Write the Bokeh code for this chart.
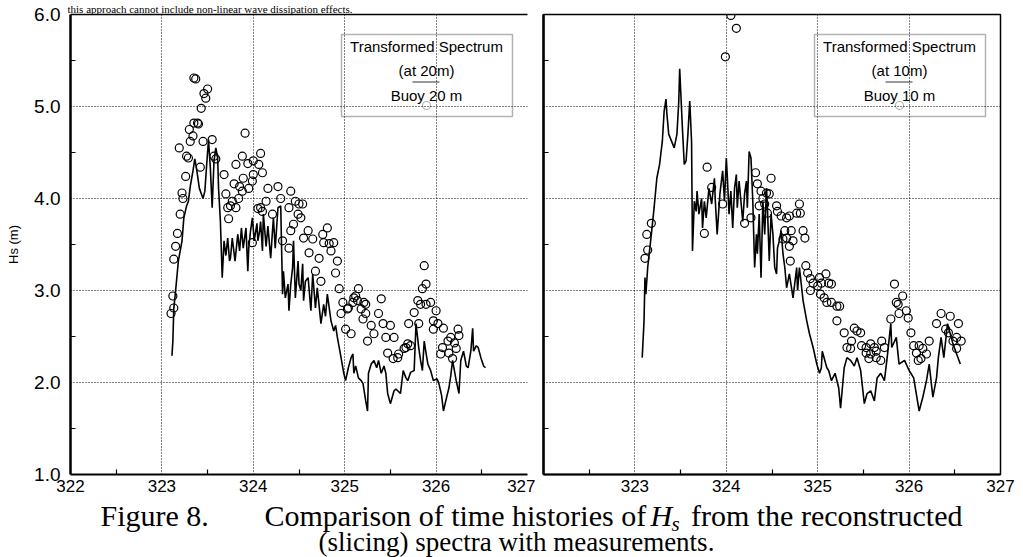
from bokeh.plotting import figure
from bokeh.models import (FixedTicker, PrintfTickFormatter, LinearAxis, Grid, Label,
                          BoxAnnotation, Range1d, Title)
from bokeh.layouts import column, row
from bokeh.embed import file_html
from bokeh.resources import INLINE

# ---------------- data ----------------
X_TICKS_LEFT = [322, 323, 324, 325, 326, 327]
X_TICKS_RIGHT = [323, 324, 325, 326, 327]
X_MINOR = [322.5, 323.5, 324.5, 325.5, 326.5]
X_GRID = [323, 324, 325, 326]
Y_TICKS = [1, 2, 3, 4, 5, 6]
Y_MINOR = [1.5, 2.5, 3.5, 4.5, 5.5]
Y_GRID = [2, 3, 4, 5]

# Transformed spectrum at 20 m (line, left panel)
T20_X = [323.11, 323.12, 323.13, 323.15, 323.17, 323.18, 323.22, 323.24, 323.27, 323.29,
         323.31, 323.34, 323.36, 323.38, 323.41, 323.45, 323.47, 323.49, 323.51, 323.53,
         323.55, 323.57, 323.59, 323.61, 323.62, 323.64, 323.66, 323.68, 323.70, 323.72,
         323.74, 323.75, 323.77, 323.80, 323.83, 323.85, 323.87, 323.89, 323.92, 323.94,
         323.95, 323.97, 323.99, 324.01, 324.04, 324.05, 324.07, 324.08, 324.10, 324.11,
         324.14, 324.16, 324.19, 324.21, 324.22, 324.24, 324.27, 324.30, 324.32, 324.33,
         324.35, 324.38, 324.39, 324.41, 324.43, 324.44, 324.46, 324.49, 324.50, 324.52,
         324.54, 324.55, 324.57, 324.60, 324.63, 324.65, 324.68, 324.70, 324.74, 324.77,
         324.79, 324.81, 324.85, 324.88, 324.90, 324.92, 324.96, 324.99, 325.01, 325.04,
         325.07, 325.09, 325.10, 325.12, 325.15, 325.18, 325.20, 325.23, 325.25, 325.26,
         325.29, 325.32, 325.35, 325.37, 325.40, 325.43, 325.45, 325.47, 325.50, 325.54,
         325.56, 325.58, 325.61, 325.64, 325.67, 325.69, 325.72, 325.76, 325.78, 325.81,
         325.83, 325.85, 325.87, 325.89, 325.91, 325.94, 325.97, 326.01, 326.03, 326.06,
         326.08, 326.12, 326.14, 326.16, 326.18, 326.22, 326.25, 326.27, 326.30, 326.33,
         326.35, 326.38, 326.40, 326.41, 326.44, 326.46, 326.49, 326.52, 326.54]
T20_HS = [2.29, 2.45, 2.80, 3.00, 3.21, 3.32, 3.54, 3.79, 3.92, 3.97,
          4.13, 4.30, 4.43, 4.32, 4.11, 4.00, 4.08, 4.37, 4.64, 4.33,
          3.90, 4.41, 4.55, 4.44, 4.11, 3.75, 3.14, 3.54, 3.38, 3.57,
          3.32, 3.35, 3.57, 3.32, 3.61, 3.43, 3.68, 3.46, 3.68, 3.21,
          3.46, 3.65, 3.79, 3.54, 3.73, 3.54, 3.65, 3.75, 3.43, 3.83,
          3.48, 3.70, 3.35, 3.65, 3.79, 3.46, 3.90, 3.92, 2.96, 3.21,
          2.92, 3.07, 2.78, 3.07, 3.25, 3.54, 2.92, 3.32, 3.07, 3.00,
          3.29, 2.89, 3.10, 3.14, 2.78, 3.18, 2.81, 3.03, 2.64, 2.85,
          2.72, 2.96, 2.67, 2.56, 2.62, 2.49, 2.27, 2.10, 2.02, 2.16,
          2.27, 2.31, 2.10, 2.18, 2.05, 2.02, 1.99, 1.80, 1.69, 2.10,
          2.20, 2.24, 2.16, 2.24, 2.10, 2.18, 2.10, 1.88, 1.77, 1.91,
          1.93, 1.91, 1.88, 2.13, 2.05, 2.02, 2.11, 2.13, 2.64, 2.38,
          2.24, 2.13, 2.45, 2.32, 2.20, 2.13, 2.02, 2.04, 1.99, 1.86,
          1.69, 1.86, 1.94, 2.07, 2.24, 2.02, 1.88, 2.24, 2.34, 2.18,
          2.16, 2.34, 2.59, 2.34, 2.40, 2.38, 2.27, 2.18, 2.16]

# Buoy 20 m (circles, left panel)
B20_X = [323.10, 323.12, 323.13, 323.13, 323.15, 323.17, 323.20, 323.22, 323.23, 323.26,
         323.27, 323.29, 323.19, 323.31, 323.30, 323.34, 323.35, 323.39, 323.40, 323.42,
         323.45, 323.43, 323.46, 323.50, 323.48, 323.37, 323.35, 323.55, 323.57, 323.59,
         323.68, 323.91, 324.08, 323.88, 323.94, 323.81, 324.00, 324.06, 324.10, 323.79,
         323.89, 323.85, 323.99, 324.00, 323.95, 323.88, 323.84, 323.77, 323.70, 323.72,
         323.75, 323.81, 323.73, 324.16, 324.27, 324.30, 324.14, 324.08, 324.05, 324.10,
         324.21, 324.41, 324.46, 324.50, 324.54, 324.49, 324.39, 324.52, 324.44, 324.60,
         324.41, 324.55, 324.65, 324.76, 324.81, 324.77, 324.83, 324.88, 324.61, 324.72,
         324.85, 324.92, 324.90, 324.68, 324.74, 324.39, 324.32, 323.99, 324.94, 324.98,
         324.96, 325.03, 325.09, 325.12, 325.15, 325.18, 325.21, 325.23, 325.01, 325.07,
         325.25, 325.29, 325.32, 325.37, 325.40, 325.42, 325.45, 325.50, 325.54, 325.47,
         325.53, 325.59, 325.65, 325.69, 325.70, 325.76, 325.80, 325.85, 325.89, 325.83,
         325.89, 325.94, 326.00, 325.97, 326.02, 325.97, 326.08, 326.07, 326.13, 326.16,
         326.20, 326.22, 326.14, 326.24, 326.25, 326.05, 326.18, 325.81, 325.87, 325.23,
         325.10, 325.14, 325.04, 325.20, 325.58, 325.67, 325.72]
B20_HS = [2.75, 2.94, 2.81, 3.34, 3.48, 3.62, 3.83, 4.06, 4.00, 4.24,
          4.46, 4.44, 4.55, 4.62, 4.75, 4.68, 4.82, 4.82, 4.81, 4.34,
          4.62, 4.98, 5.14, 5.19, 5.09, 5.30, 5.31, 4.64, 4.46, 4.43,
          4.26, 4.71, 4.49, 4.46, 4.38, 4.37, 4.41, 4.37, 4.28, 4.16,
          4.22, 4.13, 4.19, 4.26, 4.11, 4.08, 4.00, 3.97, 4.05, 3.90,
          3.92, 3.90, 3.78, 4.11, 4.13, 4.00, 3.97, 3.90, 3.89, 3.86,
          3.83, 4.08, 3.97, 3.94, 3.94, 3.83, 3.90, 3.79, 3.72, 3.65,
          3.65, 3.57, 3.56, 3.61, 3.68, 3.52, 3.51, 3.52, 3.41, 3.35,
          3.43, 3.32, 3.19, 3.21, 3.10, 3.46, 3.54, 3.52, 3.02, 2.87,
          2.75, 2.80, 2.87, 2.94, 3.02, 2.80, 2.87, 2.75, 2.58, 2.53,
          2.45, 2.62, 2.53, 2.75, 2.91, 2.64, 2.49, 2.62, 2.49, 2.32,
          2.26, 2.31, 2.37, 2.42, 2.64, 2.76, 2.89, 3.02, 3.07, 2.85,
          2.85, 2.87, 2.78, 2.67, 2.64, 2.58, 2.59, 2.38, 2.45, 2.49,
          2.43, 2.37, 2.32, 2.58, 2.51, 2.31, 2.26, 2.64, 3.27, 2.85,
          2.92, 2.89, 2.81, 2.69, 2.27, 2.38, 2.40]

# Transformed spectrum at 10 m (line, right panel)
T10_X = [323.08, 323.10, 323.11, 323.12, 323.14, 323.18, 323.21, 323.24, 323.27, 323.30,
         323.32, 323.34, 323.35, 323.37, 323.43, 323.46, 323.48, 323.49, 323.52, 323.54,
         323.56, 323.58, 323.60, 323.62, 323.63, 323.65, 323.67, 323.68, 323.70, 323.73,
         323.74, 323.76, 323.78, 323.81, 323.84, 323.87, 323.88, 323.90, 323.93, 323.96,
         323.98, 324.00, 324.01, 324.03, 324.05, 324.07, 324.09, 324.11, 324.12, 324.14,
         324.16, 324.18, 324.20, 324.22, 324.23, 324.25, 324.27, 324.29, 324.31, 324.33,
         324.34, 324.36, 324.38, 324.40, 324.42, 324.44, 324.45, 324.47, 324.49, 324.51,
         324.53, 324.55, 324.56, 324.58, 324.60, 324.62, 324.64, 324.66, 324.69, 324.73,
         324.77, 324.78, 324.80, 324.84, 324.88, 324.91, 324.95, 324.99, 325.02, 325.04,
         325.05, 325.10, 325.12, 325.15, 325.19, 325.23, 325.25, 325.29, 325.32, 325.36,
         325.40, 325.43, 325.47, 325.51, 325.54, 325.58, 325.62, 325.65, 325.69, 325.73,
         325.76, 325.80, 325.81, 325.86, 325.89, 325.95, 326.00, 326.05, 326.11, 326.15,
         326.19, 326.22, 326.26, 326.30, 326.32, 326.35, 326.38, 326.42, 326.45, 326.48,
         326.52, 326.56]
T10_HS = [2.27, 2.67, 3.14, 2.96, 3.25, 3.61, 3.90, 4.22, 4.37, 4.62,
          4.95, 5.08, 4.92, 4.70, 4.55, 4.70, 5.06, 5.41, 4.76, 4.37,
          4.41, 4.70, 5.06, 4.62, 3.43, 3.97, 3.86, 4.08, 3.83, 4.00,
          3.68, 3.97, 3.79, 4.11, 3.94, 4.22, 3.97, 3.61, 4.05, 4.30,
          3.97, 4.44, 4.26, 3.83, 4.08, 3.68, 4.11, 4.26, 3.90, 4.19,
          3.97, 3.75, 4.05, 4.19, 3.90, 4.51, 4.44, 3.97, 3.25, 3.61,
          3.40, 3.83, 3.14, 3.97, 3.61, 4.11, 3.90, 3.32, 3.83, 3.61,
          3.25, 3.18, 3.46, 3.54, 3.65, 3.40, 3.25, 3.03, 3.18, 2.92,
          3.25, 3.00, 3.25, 2.89, 2.67, 2.53, 2.38, 2.20, 2.10, 2.16,
          2.34, 2.16, 2.13, 2.02, 2.10, 1.94, 1.72, 2.16, 2.27, 2.24,
          2.18, 2.27, 2.13, 1.77, 1.88, 1.91, 1.80, 2.05, 2.10, 2.02,
          2.27, 2.64, 2.38, 2.49, 2.20, 2.24, 2.13, 2.05, 1.69, 1.84,
          2.02, 2.20, 1.84, 2.05, 2.27, 2.49, 2.27, 2.64, 2.53, 2.42,
          2.31, 2.20]

# Buoy 10 m (circles, right panel)
B10_X = [324.05, 324.11, 323.99, 323.11, 323.14, 323.13, 323.18, 323.79, 323.84, 323.76,
         323.96, 324.20, 324.27, 324.32, 324.34, 324.38, 324.40, 324.44, 324.49, 324.47,
         324.42, 324.45, 324.36, 324.55, 324.56, 324.60, 324.66, 324.69, 324.77, 324.80,
         324.81, 324.64, 324.66, 324.73, 324.71, 324.84, 324.86, 324.69, 324.62, 324.70,
         324.87, 324.89, 324.92, 324.95, 324.92, 325.00, 325.04, 325.09, 325.12, 325.15,
         325.03, 325.07, 325.10, 325.21, 325.02, 325.15, 325.24, 325.21, 325.29, 325.40,
         325.43, 325.47, 325.37, 325.32, 325.36, 325.48, 325.53, 325.58, 325.62, 325.53,
         325.58, 325.64, 325.70, 325.73, 325.56, 325.69, 325.64, 325.80, 325.84, 325.86,
         325.88, 325.93, 325.89, 325.97, 325.99, 326.02, 326.05, 326.08, 326.11, 326.15,
         326.10, 326.13, 326.19, 326.22, 326.30, 326.35, 326.45, 326.40, 326.54, 326.52,
         326.48, 326.57, 326.52, 326.43]
B10_HS = [5.99, 5.85, 5.54, 3.35, 3.44, 3.61, 3.73, 4.34, 4.12, 3.62,
          3.94, 3.73, 3.79, 4.28, 4.16, 4.08, 4.00, 4.06, 4.22, 4.05,
          3.94, 3.84, 3.92, 3.92, 3.86, 3.81, 3.79, 3.81, 3.84, 3.94,
          3.84, 3.65, 3.57, 3.54, 3.65, 3.65, 3.57, 3.48, 3.56, 3.32,
          3.27, 3.19, 3.13, 3.08, 3.00, 3.05, 3.08, 3.18, 3.08, 3.07,
          2.96, 2.92, 2.87, 2.83, 3.14, 2.87, 2.83, 2.67, 2.54, 2.59,
          2.56, 2.54, 2.45, 2.38, 2.37, 2.40, 2.38, 2.42, 2.38, 2.32,
          2.31, 2.34, 2.45, 2.38, 2.26, 2.24, 2.27, 2.69, 3.07, 2.87,
          2.85, 2.94, 2.75, 2.78, 2.70, 2.54, 2.40, 2.32, 2.40, 2.37,
          2.24, 2.26, 2.31, 2.45, 2.64, 2.75, 2.72, 2.58, 2.64, 2.49,
          2.45, 2.45, 2.37, 2.54]

SANS = "Liberation Sans"
SERIF = "Liberation Serif"


def style_axis(ax, width):
    ax.axis_line_color = "black"
    ax.axis_line_width = width
    ax.major_tick_in = 0
    ax.major_tick_out = 0
    ax.minor_tick_in = 5
    ax.minor_tick_out = 0
    ax.minor_tick_line_color = "black"
    ax.minor_tick_line_width = 1.2


def make_panel(width, b_left, b_right, xticks, line_x, line_y, pts_x, pts_y,
               depth_text, buoy_text, with_ylabels):
    p = figure(width=width, height=498, x_range=Range1d(322, 327), y_range=Range1d(1, 6),
               x_axis_type=None, y_axis_type=None, output_backend="svg", title=None,
               toolbar_location=None, min_border_left=b_left, min_border_right=b_right,
               min_border_top=14, min_border_bottom=24,
               background_fill_color="white", border_fill_color="white")

    xa = LinearAxis(ticker=FixedTicker(ticks=xticks, minor_ticks=X_MINOR))
    style_axis(xa, 2)
    xa.major_label_standoff = 5
    xa.major_label_text_font = SANS
    xa.major_label_text_font_size = "17px"
    xa.major_label_text_color = "black"
    p.add_layout(xa, "below")

    if with_ylabels:
        ya = LinearAxis(ticker=FixedTicker(ticks=Y_TICKS, minor_ticks=Y_MINOR),
                        formatter=PrintfTickFormatter(format="%.1f"), axis_label="Hs (m)")
        ya.major_label_standoff = 10
        ya.major_label_text_font = SANS
        ya.major_label_text_font_size = "19px"
        ya.major_label_text_color = "black"
        ya.axis_label_text_font = SANS
        ya.axis_label_text_font_size = "13px"
        ya.axis_label_text_font_style = "normal"
        ya.axis_label_text_color = "black"
        ya.axis_label_standoff = 10
        p.outline_line_color = None
        top = LinearAxis(ticker=FixedTicker(ticks=[]))
        top.axis_line_width = 1.5
        top.major_tick_out = 0
        top.major_tick_in = 0
        top.minor_tick_out = 0
        top.minor_tick_in = 0
        top.major_label_standoff = 0
        p.add_layout(top, "above")
    else:
        ya = LinearAxis(ticker=FixedTicker(ticks=[], minor_ticks=Y_MINOR))
        p.outline_line_color = "black"
        p.outline_line_width = 1.5
    style_axis(ya, 2.5)
    p.add_layout(ya, "left")

    p.add_layout(Grid(dimension=0, ticker=FixedTicker(ticks=X_GRID), grid_line_color="black",
                      grid_line_dash="1 2", grid_line_width=1))
    p.add_layout(Grid(dimension=1, ticker=FixedTicker(ticks=Y_GRID), grid_line_color="black",
                      grid_line_dash="1 2", grid_line_width=1))

    p.line(line_x, line_y, line_color="black", line_width=1.6)
    p.scatter(pts_x, pts_y, marker="circle", size=8, fill_color=None,
              line_color="black", line_width=1.2)

    # legend drawn as in the original (screen units relative to the frame)
    p.add_layout(BoxAnnotation(left=271, right=442, bottom=358, top=440,
                               left_units="screen", right_units="screen",
                               bottom_units="screen", top_units="screen",
                               fill_color=None, line_color="black", line_width=1.5))
    for txt, yy in (("Transformed Spectrum", 428), (depth_text, 404), (buoy_text, 379)):
        p.add_layout(Label(x=356, y=yy, x_units="screen", y_units="screen", text=txt,
                           text_align="center", text_baseline="middle", text_font=SANS,
                           text_font_size="15px", text_color="black"))
    p.add_layout(BoxAnnotation(left=342, right=369, bottom=391.5, top=393.5,
                               left_units="screen", right_units="screen",
                               bottom_units="screen", top_units="screen",
                               fill_color="black", line_color=None))
    p.add_layout(BoxAnnotation(left=352, right=360, bottom=365, top=373,
                               left_units="screen", right_units="screen",
                               bottom_units="screen", top_units="screen",
                               border_radius=4, fill_color=None,
                               line_color="black", line_width=1.2))
    return p


left = make_panel(535, 70, 8, X_TICKS_LEFT, T20_X, T20_HS, B20_X, B20_HS,
                  "(at 20m)", "Buoy 20 m", True)
right = make_panel(488, 8, 23, X_TICKS_RIGHT, T10_X, T10_HS, B10_X, B10_HS,
                   "(at 10m)", "Buoy 10 m", False)

# the line of body text at the very top of the scanned page, drawn as a title
# so that it sits in the border strip above the frame
left.add_layout(Title(text="this approach cannot include non-linear wave dissipation effects.",
                      align="left", offset=-3, standoff=0, text_font=SERIF,
                      text_font_size="11px", text_font_style="normal", text_color="black"),
                "above")

# caption strip (pixel coordinates, y measured downward from its top edge)
cap = figure(width=1023, height=59, x_range=Range1d(0, 1023), y_range=Range1d(59, 0),
             x_axis_type=None, y_axis_type=None, output_backend="svg", toolbar_location=None,
             title=None, min_border=0, outline_line_color=None,
             background_fill_color="white", border_fill_color="white")


def cap_label(x, y, text, size="30px", style="normal", align="left"):
    cap.add_layout(Label(x=x, y=y, text=text, text_font=SERIF, text_font_size=size,
                         text_font_style=style, text_color="black", text_align=align,
                         text_baseline="middle"))


cap_label(100, 17, "Figure 8.")
cap_label(264, 17, "Comparison of time histories of")
cap_label(650, 17, "H", style="italic")
cap_label(671, 25, "s", size="21px", style="italic")
cap_label(962, 17, "from the reconstructed", align="right")
cap_label(318, 43, "(slicing) spectra with measurements.", size="27px")

layout = column(row(left, right, spacing=0), cap, spacing=0)

with open("out.html", "w") as f:
    f.write(file_html(layout, INLINE))
